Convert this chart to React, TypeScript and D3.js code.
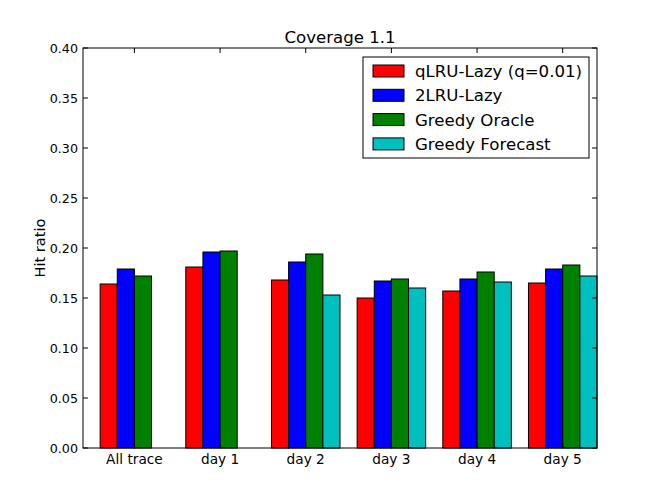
import React from "react";
import * as d3 from "d3";

const categories = ["All trace", "day 1", "day 2", "day 3", "day 4", "day 5"];
const seriesNames = ["qLRU-Lazy (q=0.01)", "2LRU-Lazy", "Greedy Oracle", "Greedy Forecast"];
const seriesColors = ["#ff0000", "#0000ff", "#008000", "#00bfbf"];
const qlru = [0.164, 0.181, 0.168, 0.150, 0.157, 0.165];
const twoLru = [0.179, 0.196, 0.186, 0.167, 0.169, 0.179];
const greedyOracle = [0.172, 0.197, 0.194, 0.169, 0.176, 0.183];
const greedyForecast = [null, null, 0.153, 0.160, 0.166, 0.172];
const yTicks = [0, 0.05, 0.1, 0.15, 0.2, 0.25, 0.3, 0.35, 0.4];

const W = 664, H = 498;
const L = 83, R = 597, T = 48, B = 448;
const FONT = "DejaVu Sans, sans-serif";

export default function App() {
  const series = [qlru, twoLru, greedyOracle, greedyForecast];
  const x = d3.scaleLinear().domain([0, 6]).range([L, R]);
  const y = d3.scaleLinear().domain([0, 0.4]).range([B, T]);
  const bw = 0.2;
  const tickLen = 5;

  const bars: React.ReactNode[] = [];
  series.forEach((vals, si) => {
    vals.forEach((v, ci) => {
      if (v == null) return;
      const x0 = x(ci + 0.2 + si * bw);
      const x1 = x(ci + 0.2 + (si + 1) * bw);
      bars.push(
        <rect key={`${si}-${ci}`} x={x0} y={y(v)} width={x1 - x0} height={y(0) - y(v)}
          fill={seriesColors[si]} stroke="#000" strokeWidth={1} />
      );
    });
  });

  const legX = 363, legY = 57, legW = 226, legH = 101;
  const rowH = 24.3;

  return (
    <svg width={W} height={H} style={{ display: "block", position: "absolute", left: 0, top: 0 }}>
      <rect x={0} y={0} width={W} height={H} fill="#fff" />
      {bars}
      {yTicks.map((t) => (
        <g key={t}>
          <line x1={L} x2={L + tickLen} y1={y(t)} y2={y(t)} stroke="#000" />
          <line x1={R} x2={R - tickLen} y1={y(t)} y2={y(t)} stroke="#000" />
          <text x={L - 5} y={y(t)} dy="0.36em" textAnchor="end" fontFamily={FONT} fontSize={12.7}>
            {t.toFixed(2)}
          </text>
        </g>
      ))}
      {categories.map((c, i) => (
        <g key={c}>
          <line x1={x(i + 0.6)} x2={x(i + 0.6)} y1={B} y2={B - tickLen} stroke="#000" />
          <line x1={x(i + 0.6)} x2={x(i + 0.6)} y1={T} y2={T + tickLen} stroke="#000" />
          <text x={x(i + 0.6)} y={464} textAnchor="middle" fontFamily={FONT} fontSize={13.7}>
            {c}
          </text>
        </g>
      ))}
      <rect x={L} y={T} width={R - L} height={B - T} fill="none" stroke="#000" strokeWidth={1} />
      <text x={(L + R) / 2} y={43} textAnchor="middle" fontFamily={FONT} fontSize={16.6}>
        Coverage 1.1
      </text>
      <text transform={`translate(45, ${(T + B) / 2}) rotate(-90)`} textAnchor="middle" fontFamily={FONT} fontSize={14.6}>
        Hit ratio
      </text>
      <rect x={legX} y={legY} width={legW} height={legH} fill="#fff" stroke="#000" strokeWidth={1} />
      {seriesNames.map((n, i) => (
        <g key={n}>
          <rect x={373} y={65 + i * rowH} width={31} height={12} fill={seriesColors[i]} stroke="#000" strokeWidth={1} />
          <text x={415} y={71 + i * rowH} dy="0.36em" fontFamily={FONT} fontSize={16.6}>
            {n}
          </text>
        </g>
      ))}
    </svg>
  );
}
